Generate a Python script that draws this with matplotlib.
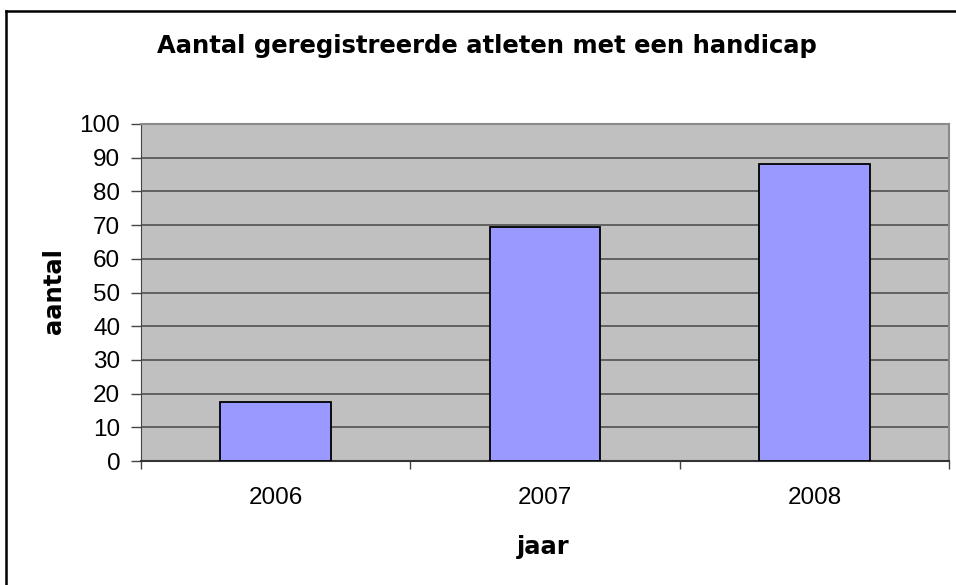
import matplotlib

matplotlib.use("Agg")
import matplotlib.pyplot as plt
from matplotlib.lines import Line2D

plt.rcParams["font.family"] = ["Liberation Sans", "DejaVu Sans"]

# data
years = ["2006", "2007", "2008"]
counts = [17.6, 69.4, 88.1]
yticks = list(range(0, 101, 10))

W, H = 956, 585
fig = plt.figure(figsize=(W / 100, H / 100), dpi=100)

# outer chart frame (only left and top are visible in the crop)
fig.add_artist(Line2D([5.5 / W, 5.5 / W], [0, 1 - 10.5 / H], transform=fig.transFigure,
                      color="black", linewidth=1.8))
fig.add_artist(Line2D([5.5 / W, 1], [1 - 10.5 / H, 1 - 10.5 / H], transform=fig.transFigure,
                      color="black", linewidth=1.8))

left, right, top, bottom = 141, 949, 124, 461
ax = fig.add_axes([left / W, 1 - bottom / H, (right - left) / W, (bottom - top) / H])
ax.set_facecolor("#C0C0C0")

x = range(len(years))
ax.bar(x, counts, 0.41, color="#9999FF", edgecolor="black", linewidth=1.3, zorder=3)

ax.set_xlim(-0.5, 2.5)
ax.set_ylim(0, 100)
ax.set_yticks(yticks)
ax.yaxis.grid(True, color="#5a5a5a", linewidth=1.3, zorder=1)
ax.set_axisbelow(True)

# category boundary ticks, labels in the middle
ax.set_xticks([-0.5, 0.5, 1.5, 2.5])
ax.set_xticklabels([])
ax.set_xticks(list(x), minor=True)
ax.set_xticklabels(years, minor=True)
ax.tick_params(axis="x", which="major", direction="out", length=6, width=1, color="#444444")
ax.tick_params(axis="x", which="minor", length=0, pad=19, labelsize=17.5)
ax.tick_params(axis="y", direction="out", length=7, width=1, color="#444444", pad=8,
               labelsize=17.5)

for side in ["top", "right"]:
    ax.spines[side].set_color("#8a8a8a")
    ax.spines[side].set_linewidth(1.5)
ax.spines["left"].set_color("#444444")
ax.spines["bottom"].set_color("#333333")
ax.spines["bottom"].set_linewidth(1.5)

bold = dict(family="DejaVu Sans", fontweight="bold", fontsize=17.5)
fig.text(487 / W, 1 - 46 / H, "Aantal geregistreerde atleten met een handicap",
         ha="center", va="center", **bold)
fig.text(543 / W, 1 - 547 / H, "jaar", ha="center", va="center", **bold)
fig.text(54 / W, 1 - 291 / H, "aantal", ha="center", va="center", rotation=90, **bold)

fig.savefig("out.png", dpi=100)
